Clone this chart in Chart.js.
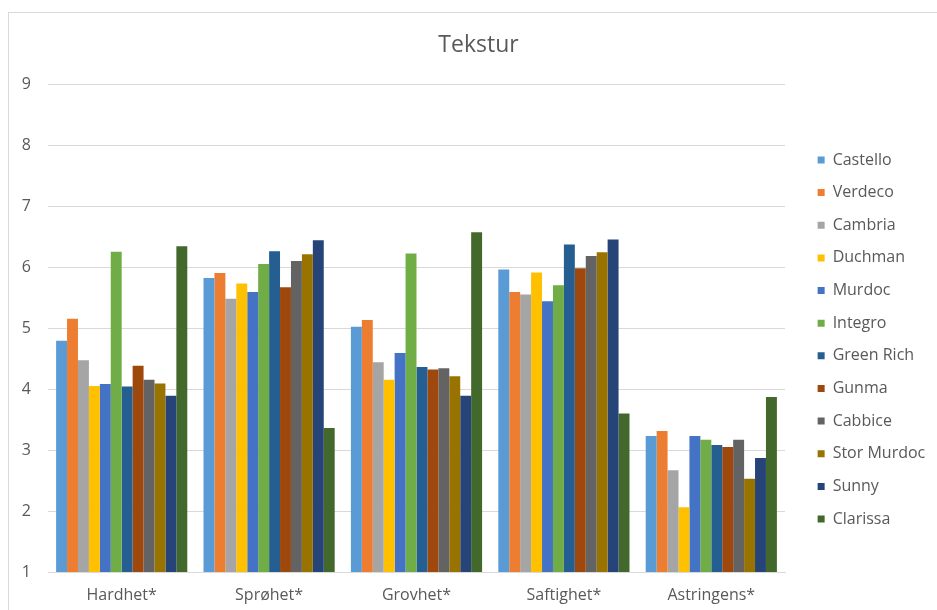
<!DOCTYPE html>
<html>
<head>
<meta charset="utf-8">
<script src="https://cdn.jsdelivr.net/npm/chart.js@4.4.1/dist/chart.umd.min.js"></script>
<style>
    html, body { margin: 0; padding: 0; overflow: hidden; background: #fff; }
    #frame { position: absolute; left: 8px; top: 12px; width: 960px; height: 640px; border: 1px solid #d9d9d9; }
    #wrap { position: absolute; left: 0; top: 0; width: 954px; height: 618px; }
</style>
</head>
<body>
<div id="frame"></div>
<div id="wrap"><canvas id="texturChart"></canvas></div>
<script>
const categories = ['Hardhet*', 'Sprøhet*', 'Grovhet*', 'Saftighet*', 'Astringens*'];

const castello   = [4.79, 5.82, 5.02, 5.96, 3.23];
const verdeco    = [5.15, 5.90, 5.13, 5.59, 3.31];
const cambria    = [4.47, 5.48, 4.44, 5.55, 2.67];
const duchman    = [4.05, 5.73, 4.15, 5.91, 2.06];
const murdoc     = [4.08, 5.59, 4.59, 5.44, 3.23];
const integro    = [6.25, 6.05, 6.22, 5.70, 3.17];
const greenRich  = [4.04, 6.26, 4.36, 6.37, 3.08];
const gunma      = [4.38, 5.67, 4.32, 5.98, 3.05];
const cabbice    = [4.15, 6.10, 4.34, 6.18, 3.17];
const storMurdoc = [4.09, 6.21, 4.21, 6.24, 2.53];
const sunny      = [3.89, 6.44, 3.89, 6.45, 2.87];
const clarissa   = [6.34, 3.36, 6.57, 3.60, 3.87];

const yTicks = [1, 2, 3, 4, 5, 6, 7, 8, 9];

const textColor = '#595959';
const gridColor = '#d9d9d9';
const fontFamily = '"Open Sans", sans-serif';

// legend column: fixed width, nudged right/down like the Excel one
const legendWidth = 160;
const legendDx = 16;
const legendDy = 11.5;

const legendPlace = {
    id: 'legendPlace',
    afterInit: function(chart) {
        const legend = chart.legend;
        const fit = legend.fit;
        legend.fit = function() {
            fit.call(this);
            this.width = legendWidth;
        };
    },
    afterLayout: function(chart) {
        const legend = chart.legend;
        legend.left += legendDx;
        legend.top += legendDy;
        legend.bottom += legendDy;
    }
};

function bar(label, data, color) {
    return {
        label: label,
        data: data,
        backgroundColor: color,
        borderWidth: 0,
        categoryPercentage: 0.89,
        barPercentage: 1.0
    };
}

new Chart(document.getElementById('texturChart'), {
    type: 'bar',
    data: {
        labels: categories,
        datasets: [
            bar('Castello', castello, '#5B9BD5'),
            bar('Verdeco', verdeco, '#ED7D31'),
            bar('Cambria', cambria, '#A5A5A5'),
            bar('Duchman', duchman, '#FFC000'),
            bar('Murdoc', murdoc, '#4472C4'),
            bar('Integro', integro, '#70AD47'),
            bar('Green Rich', greenRich, '#255E91'),
            bar('Gunma', gunma, '#9E480E'),
            bar('Cabbice', cabbice, '#636363'),
            bar('Stor Murdoc', storMurdoc, '#997300'),
            bar('Sunny', sunny, '#264478'),
            bar('Clarissa', clarissa, '#43682B')
        ]
    },
    plugins: [legendPlace],
    options: {
        responsive: true,
        maintainAspectRatio: false,
        animation: false,
        layout: {
            padding: { left: 12, right: 9, top: 0, bottom: 0 }
        },
        plugins: {
            title: {
                display: true,
                text: 'Tekstur',
                color: textColor,
                font: { family: fontFamily, size: 23, weight: 'normal' },
                padding: { top: 32, bottom: 24.4 }
            },
            legend: {
                position: 'right',
                fullSize: false,
                labels: {
                    color: textColor,
                    font: { family: fontFamily, size: 16 },
                    boxWidth: 7,
                    boxHeight: 7,
                    padding: 16.64
                }
            },
            tooltip: { enabled: false }
        },
        scales: {
            x: {
                grid: { display: false, drawTicks: false },
                border: { color: gridColor },
                ticks: {
                    color: textColor,
                    font: { family: fontFamily, size: 16 },
                    padding: 13.4
                }
            },
            y: {
                min: 1,
                max: 9,
                afterBuildTicks: function(axis) {
                    axis.ticks = yTicks.map(v => ({ value: v }));
                },
                afterFit: function(axis) {
                    axis.width = 36;
                },
                grid: { color: gridColor, drawTicks: false },
                border: { display: false },
                ticks: {
                    color: textColor,
                    font: { family: fontFamily, size: 16 },
                    padding: 17
                }
            }
        }
    }
});
</script>
</body>
</html>
